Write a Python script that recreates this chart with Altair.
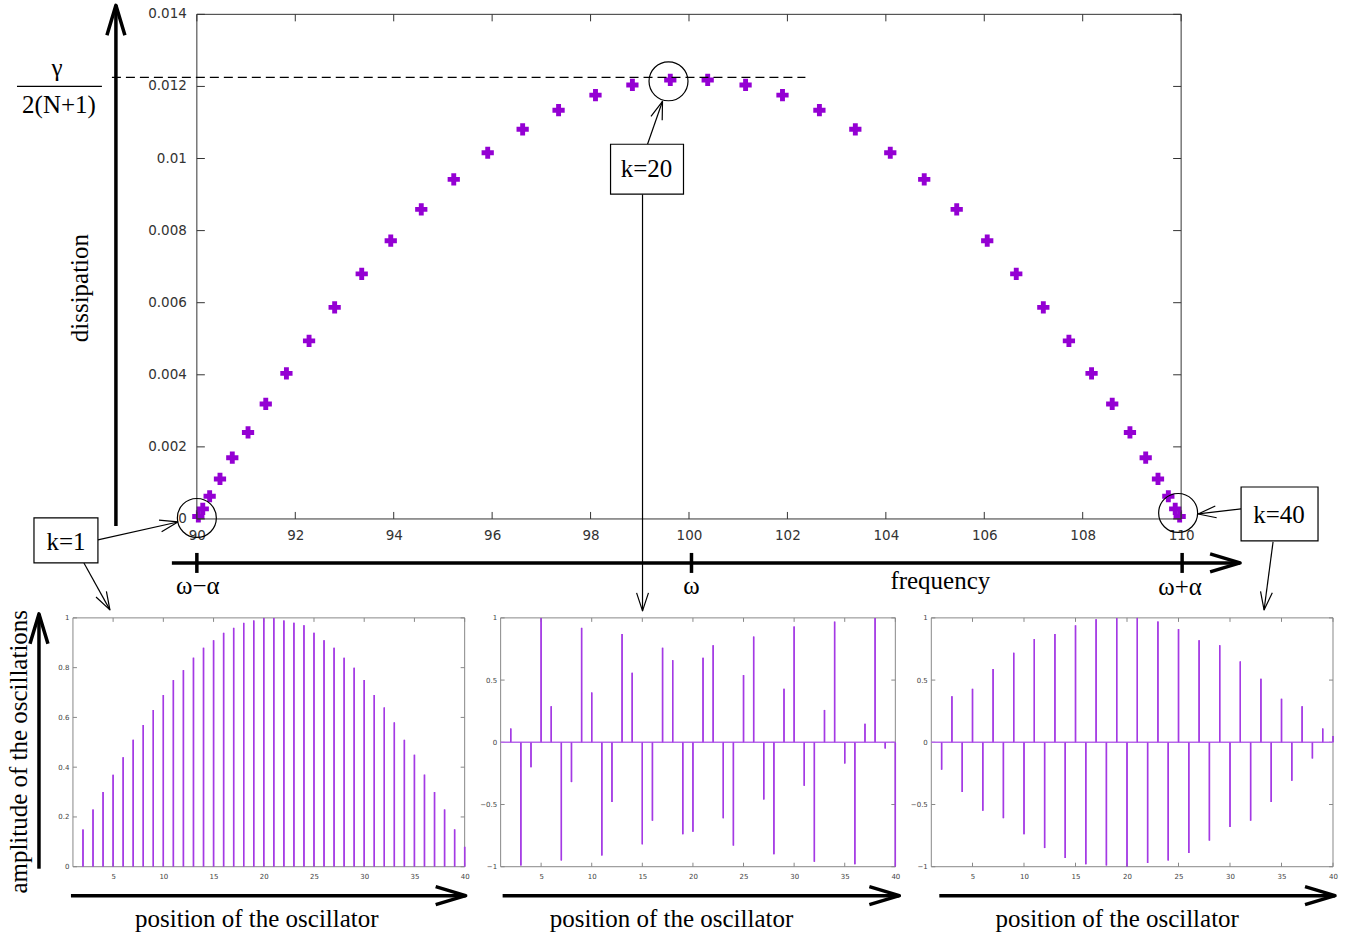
import math
import altair as alt
import pandas as pd

# ---------------- data ----------------
mode_k = list(range(1, 41))
frequency = [90.03, 90.12, 90.26, 90.47, 90.72, 91.04, 91.40, 91.82, 92.28, 92.80,
             93.35, 93.94, 94.56, 95.22, 95.91, 96.62, 97.35, 98.10, 98.85, 99.62,
             100.38, 101.15, 101.90, 102.65, 103.38, 104.09, 104.78, 105.44, 106.06, 106.65,
             107.20, 107.72, 108.18, 108.60, 108.96, 109.28, 109.53, 109.74, 109.88, 109.97]
dissipation = [0.00007, 0.00028, 0.00063, 0.00111, 0.00170, 0.00240, 0.00319, 0.00404, 0.00494, 0.00587,
               0.00680, 0.00772, 0.00859, 0.00942, 0.01016, 0.01081, 0.01134, 0.01176, 0.01204, 0.01218,
               0.01218, 0.01204, 0.01176, 0.01134, 0.01081, 0.01016, 0.00942, 0.00859, 0.00772, 0.00680,
               0.00587, 0.00494, 0.00404, 0.00319, 0.00240, 0.00170, 0.00111, 0.00063, 0.00028, 0.00007]

position = list(range(2, 41))
amp_k1 = [0.15, 0.23, 0.30, 0.37, 0.44, 0.51, 0.57, 0.63, 0.69, 0.75,
          0.79, 0.84, 0.88, 0.91, 0.94, 0.96, 0.98, 0.99, 1.00, 1.00,
          0.99, 0.98, 0.97, 0.94, 0.91, 0.88, 0.84, 0.80, 0.75, 0.69,
          0.64, 0.58, 0.51, 0.45, 0.37, 0.30, 0.23, 0.15, 0.08]
amp_k20 = [0.11, -0.99, -0.20, 1.00, 0.29, -0.95, -0.32, 0.92, 0.40, -0.91,
           -0.48, 0.87, 0.56, -0.82, -0.63, 0.76, 0.66, -0.74, -0.72, 0.68,
           0.78, -0.61, -0.83, 0.54, 0.85, -0.46, -0.90, 0.43, 0.93, -0.35,
           -0.96, 0.26, 0.97, -0.17, -0.98, 0.15, 1.00, -0.05, -1.00]
amp_k40 = [-0.22, 0.37, -0.40, 0.43, -0.55, 0.59, -0.61, 0.72, -0.74, 0.83,
           -0.85, 0.87, -0.93, 0.94, -0.98, 0.99, -0.99, 1.00, -1.00, 1.00,
           -0.97, 0.97, -0.95, 0.91, -0.89, 0.82, -0.79, 0.78, -0.68, 0.65,
           -0.63, 0.51, -0.48, 0.35, -0.31, 0.29, -0.13, 0.11, 0.05]

main_xticks = [90, 92, 94, 96, 98, 100, 102, 104, 106, 108, 110]
main_yticks = [0, 0.002, 0.004, 0.006, 0.008, 0.010, 0.012, 0.014]
main_ylabels = ["0", "0.002", "0.004", "0.006", "0.008", "0.01", "0.012", "0.014"]
panel_xticks = [5, 10, 15, 20, 25, 30, 35, 40]
p1_yticks = [0, 0.2, 0.4, 0.6, 0.8, 1]
p23_yticks = [-1, -0.5, 0, 0.5, 1]

# ---------------- styles ----------------
BLACK = "#000000"
SERIF = "Liberation Serif"
SANS = "DejaVu Sans"
PURPLE = "#9400d3"
STEM = "#a43ae4"
ZERO_C = "#b768ea"
THICK_PATH = "M -0.3 1 L 0 0 L 0.3 1"
THICK_SIZE = 3600
THIN_PATH = "M -0.33 1 L 0 0 L 0.33 1"
THIN_SIZE = 1296


def X(field, xs):
    return alt.X(field, type="quantitative", scale=xs, title=None)


def Y(field, ys, show):
    if show:
        return alt.Y(field, type="quantitative", scale=ys, title=None)
    return alt.Y(field, type="quantitative", scale=ys, axis=None)


def segs(rows, xs, ys, yshow, color=BLACK, width=1.0, dash=None, opacity=1):
    df = pd.DataFrame(rows, columns=["x", "y", "x2", "y2"])
    kw = dict(color=color, strokeWidth=width, clip=False, opacity=opacity)
    if dash:
        kw["strokeDash"] = dash
    return alt.Chart(df).mark_rule(**kw).encode(
        x=X("x", xs), y=Y("y", ys, yshow), x2="x2:Q", y2="y2:Q")


def heads(rows, xs, ys, yshow, path, size, width):
    df = pd.DataFrame(rows, columns=["x", "y", "a"])
    return alt.Chart(df).mark_point(shape=path, size=size, filled=False, color=BLACK,
                                    strokeWidth=width, strokeJoin="round", opacity=1,
                                    clip=False).encode(
        x=X("x", xs), y=Y("y", ys, yshow), angle=alt.Angle("a:Q", scale=None))


def arrows(px_list, cx, cy, xs, ys, yshow, width, path, size):
    lines, hs = [], []
    for (x0, y0, x1, y1) in px_list:
        lines.append((cx(x0), cy(y0), cx(x1), cy(y1)))
        ang = math.degrees(math.atan2(x1 - x0, -(y1 - y0))) % 360
        hs.append((cx(x1), cy(y1), ang))
    return [segs(lines, xs, ys, yshow, width=width), heads(hs, xs, ys, yshow, path, size, width)]


def texts(rows, xs, ys, yshow, size=25, font=SERIF, angle=0, align="center",
          baseline="middle", color=BLACK, dx=0):
    df = pd.DataFrame(rows, columns=["x", "y", "t"])
    return alt.Chart(df).mark_text(font=font, fontSize=size, angle=angle, align=align,
                                   baseline=baseline, color=color, dx=dx, clip=False).encode(
        x=X("x", xs), y=Y("y", ys, yshow), text="t:N")


# ---------------- main chart ----------------
M_LEFT, M_TOP, M_W, M_H = 73, 13, 1267, 505
XU = 20.0 / 985.0
YU = 0.014 / 505.0


def mx(px):
    return 90 + (px - 197) * XU


def my(py):
    return (518 - py) * YU


mxs = alt.Scale(domain=[mx(M_LEFT), mx(M_LEFT + M_W)], nice=False, zero=False)
mys = alt.Scale(domain=[0, 0.014], nice=False, zero=False)
NO = False

L = []
# scatter first: it carries the x axis
scatter_df = pd.DataFrame({"k": mode_k, "f": frequency, "d": dissipation})
L.append(alt.Chart(scatter_df).mark_point(shape="cross", filled=True, size=150,
                                           color=PURPLE, opacity=1).encode(
    x=alt.X("f:Q", scale=mxs, title=None,
            axis=alt.Axis(values=main_xticks, domain=False, ticks=False, grid=False,
                          labelFont=SANS, labelFontSize=13.5, labelColor="#333333",
                          labelPadding=10, labelFlush=False, labelOverlap=False)),
    y=alt.Y("d:Q", scale=mys, axis=None)))
# anchors fixing the canvas origin / extent
L.append(segs([(mx(0), my(0), mx(0), my(0)), (mx(1352), my(936), mx(1352), my(936))],
              mxs, mys, NO, width=0, opacity=0))
# frame
L.append(segs([(90, 0, 110, 0), (90, 0.014, 110, 0.014), (90, 0, 90, 0.014), (110, 0, 110, 0.014)],
              mxs, mys, NO, color="#333333", width=1))
# inward ticks
tk = []
for v in main_xticks:
    tk += [(v, 0, v, 7 * YU), (v, 0.014, v, 0.014 - 7 * YU)]
for v in main_yticks:
    tk += [(90, v, 90 + 8 * XU, v), (110, v, 110 - 8 * XU, v)]
L.append(segs(tk, mxs, mys, NO, color="#333333", width=1))
# dashed level gamma/2(N+1)
L.append(segs([(mx(112), my(76), mx(806), my(76))], mxs, mys, NO, width=1.2, dash=[9, 5]))
# y tick labels
L.append(texts([(90, v, s) for v, s in zip(main_yticks, main_ylabels)], mxs, mys, NO,
               size=13.5, font=SANS, align="right", color="#333333", dx=-10))
# circles
cir = pd.DataFrame([(mx(197), my(517)), (mx(669), my(80)), (mx(1179), my(512))], columns=["x", "y"])
L.append(alt.Chart(cir).mark_point(shape="circle", size=1521, filled=False, color=BLACK,
                                    strokeWidth=1.2, opacity=1, clip=False).encode(
    x=X("x", mxs), y=Y("y", mys, NO)))
# thin arrows
L += arrows([(98, 539, 178, 521), (84, 562, 110, 609), (648, 143, 663, 100),
             (643, 193, 643, 610), (1242, 508, 1199, 513), (1274, 541, 1265, 609)],
            mx, my, mxs, mys, NO, 1.2, THIN_PATH, THIN_SIZE)
# boxes
bx = pd.DataFrame([(mx(34), my(517), mx(98), my(562)), (mx(611), my(143), mx(684), my(193)),
                   (mx(1242), my(486), mx(1319), my(540))], columns=["x", "y", "x2", "y2"])
L.append(alt.Chart(bx).mark_rect(fill="white", stroke=BLACK, strokeWidth=1.2, clip=False).encode(
    x=X("x", mxs), y=Y("y", mys, NO), x2="x2:Q", y2="y2:Q"))
L.append(texts([(mx(66), my(541), "k=1"), (mx(647), my(168), "k=20"), (mx(1280), my(514), "k=40")],
               mxs, mys, NO))
# big axis arrows
L += arrows([(116, 525, 116, 4), (172, 562, 1241, 562)], mx, my, mxs, mys, NO, 3.5,
            THICK_PATH, THICK_SIZE)
L.append(segs([(mx(197), my(552), mx(197), my(572)), (mx(692), my(552), mx(692), my(572)),
               (mx(1183), my(552), mx(1183), my(572))], mxs, mys, NO, width=3.5))
# fraction gamma / 2(N+1)
L.append(segs([(mx(17), my(85), mx(102), my(85))], mxs, mys, NO, width=1.3))
L.append(texts([(mx(57), my(67), "γ"), (mx(59), my(104), "2(N+1)")], mxs, mys, NO))
# axis texts
L.append(texts([(mx(198), my(585), "ω−α"), (mx(692), my(585), "ω"), (mx(1181), my(586), "ω+α"),
                (mx(941), my(580), "frequency")], mxs, mys, NO))
L.append(texts([(mx(80), my(287), "dissipation")], mxs, mys, NO, angle=270))

main = alt.layer(*L).properties(width=M_W, height=M_H)

# ---------------- bottom panels ----------------
P_TOP, P_H = 617, 249
P_BOTTOM = P_TOP + P_H


def make_panel(vals, ydom, yticks, left, width, zero_line, arrow_px, label_cx, extra=False):
    xs = alt.Scale(domain=[1, 40], nice=False, zero=False)
    ys = alt.Scale(domain=ydom, nice=False, zero=False)
    XP = 39.0 / width
    YP = (ydom[1] - ydom[0]) / P_H
    YES = True

    def cx(px):
        return 1 + (px - left) * XP

    def cy(py):
        return ydom[0] + (P_BOTTOM - py) * YP

    y0, y1 = ydom
    layers = []
    df = pd.DataFrame({"pos": position, "amp": vals, "base": [0.0] * len(vals)})
    stems = alt.Chart(df).mark_rule(color=STEM, strokeWidth=1.4).encode(
        x=alt.X("pos:Q", scale=xs, title=None,
                axis=alt.Axis(values=panel_xticks, domain=False, ticks=False, grid=False,
                              labelFont=SANS, labelFontSize=7, labelColor="#444444",
                              labelPadding=6, labelFlush=False, labelOverlap=False)),
        y=alt.Y("amp:Q", scale=ys, title=None,
                axis=alt.Axis(values=yticks, format="~g", domain=False, ticks=False, grid=False,
                              labelFont=SANS, labelFontSize=7, labelColor="#444444",
                              labelPadding=4, labelFlush=False, labelOverlap=False)),
        y2="base:Q")
    layers.append(stems)
    layers.append(segs([(1, y0, 40, y0), (1, y1, 40, y1), (1, y0, 1, y1), (40, y0, 40, y1)],
                       xs, ys, YES, color="#888888", width=1))
    tl = []
    for v in panel_xticks:
        tl += [(v, y0, v, y0 + 4 * YP), (v, y1, v, y1 - 4 * YP)]
    for v in yticks:
        tl += [(1, v, 1 + 4 * XP, v), (40, v, 40 - 4 * XP, v)]
    layers.append(segs(tl, xs, ys, YES, color="#888888", width=1))
    if zero_line:
        layers.append(segs([(1, 0, 40, 0)], xs, ys, YES, color=ZERO_C, width=1.5))
    # redraw stems on top of frame and zero line
    layers.append(alt.Chart(df).mark_rule(color=STEM, strokeWidth=1.4).encode(
        x=X("pos", xs), y=Y("amp", ys, YES), y2="base:Q"))
    layers += arrows([arrow_px], cx, cy, xs, ys, YES, 3.5, THICK_PATH, THICK_SIZE)
    layers.append(texts([(cx(label_cx), cy(918), "position of the oscillator")], xs, ys, YES))
    if extra:
        layers += arrows([(39, 868, 39, 613)], cx, cy, xs, ys, YES, 3.5, THICK_PATH, THICK_SIZE)
        layers.append(texts([(cx(19), cy(751), "amplitude of the oscillations")], xs, ys, YES,
                            angle=270))
    return alt.layer(*layers).properties(width=width, height=P_H)


p1 = make_panel(amp_k1, [0, 1], p1_yticks, 73, 392, False, (71, 895, 466, 895), 257, extra=True)
p2 = make_panel(amp_k20, [-1, 1], p23_yticks, 501, 395, True, (503, 895, 900, 895), 672)
p3 = make_panel(amp_k40, [-1, 1], p23_yticks, 932, 402, True, (940, 895, 1336, 895), 1118)

row = alt.hconcat(p1, p2, p3, spacing=36, bounds="flush")
chart = alt.vconcat(main, row, spacing=99, bounds="flush", padding=0,
                    background="white").configure_view(stroke=None)

chart.save("out.html", embed_options={"renderer": "svg", "actions": False})
